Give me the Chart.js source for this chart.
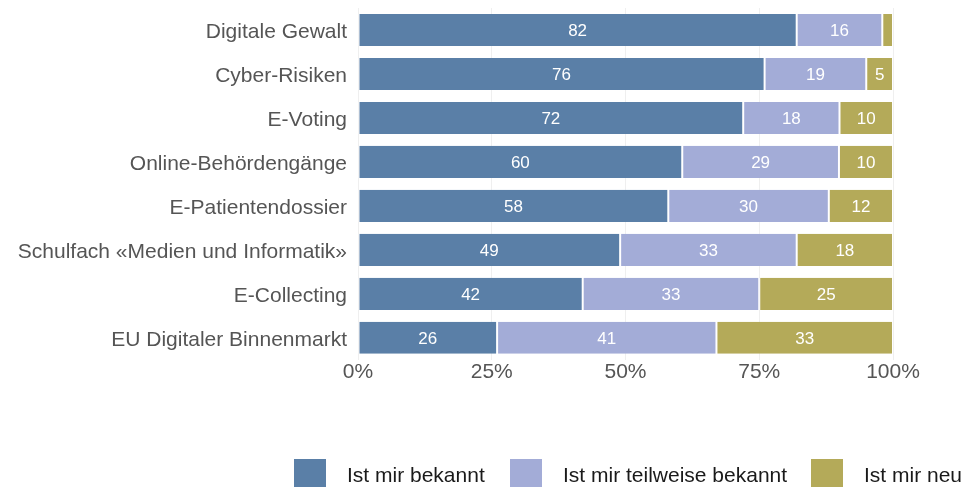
<!DOCTYPE html>
<html>
<head>
<meta charset="utf-8">
<script src="https://cdn.jsdelivr.net/npm/chart.js@4"></script>
<style>
  body { margin: 0; background: #fff; }
</style>
</head>
<body>
<canvas id="chart1" width="968" height="487"></canvas>
<script>
let categories = [
  'Digitale Gewalt',
  'Cyber-Risiken',
  'E-Voting',
  'Online-Behördengänge',
  'E-Patientendossier',
  'Schulfach «Medien und Informatik»',
  'E-Collecting',
  'EU Digitaler Binnenmarkt'
];
let bekannt   = [82, 76, 72, 60, 58, 49, 42, 26];
let teilweise = [16, 19, 18, 29, 30, 33, 33, 41];
let neu       = [2, 5, 10, 10, 12, 18, 25, 33];
let tickLabels = ['0%', '25%', '50%', '75%', '100%'];
let seriesNames = ['Ist mir bekannt', 'Ist mir teilweise bekannt', 'Ist mir neu'];
let colors = ['#5a7fa7', '#a3acd7', '#b4aa59'];

// each row is shown as share of its own total (stacked to 100%)
let totals = categories.map((c, i) => bekannt[i] + teilweise[i] + neu[i]);
let share = arr => arr.map((v, i) => v / totals[i] * 100);
let raw = [bekannt, teilweise, neu];

let font = "'Liberation Sans', Arial, Helvetica, sans-serif";

// values written inside the segments
let segmentLabels = {
  id: 'segmentLabels',
  afterDatasetsDraw(chart) {
    let ctx = chart.ctx;
    ctx.save();
    ctx.font = '17px ' + font;
    ctx.fillStyle = '#fff';
    ctx.textAlign = 'center';
    ctx.textBaseline = 'middle';
    chart.data.datasets.forEach((ds, di) => {
      chart.getDatasetMeta(di).data.forEach((bar, i) => {
        let v = raw[di][i];
        if (v < 5) return;
        let cx = (bar.x + bar.base) / 2;
        ctx.fillText(v, cx, bar.y + 1);
      });
    });
    ctx.restore();
  }
};

// legend row under the chart
let bottomLegend = {
  id: 'bottomLegend',
  afterDraw(chart) {
    let ctx = chart.ctx;
    let xs = [294, 510, 811];
    ctx.save();
    ctx.font = '21px ' + font;
    ctx.textBaseline = 'middle';
    seriesNames.forEach((name, i) => {
      ctx.fillStyle = colors[i];
      ctx.fillRect(xs[i], 459, 32, 30);
      ctx.fillStyle = '#1a1a1a';
      ctx.fillText(name, xs[i] + 53, 476);
    });
    ctx.restore();
  }
};

let ctx1 = document.getElementById('chart1');

let chart1 = new Chart(ctx1, {
  type: 'bar',
  data: {
    labels: categories,
    datasets: [bekannt, teilweise, neu].map((arr, i) => ({
      label: seriesNames[i],
      data: share(arr),
      backgroundColor: colors[i],
      borderColor: '#fff',
      borderWidth: { left: 1, right: 1, top: 0, bottom: 0 },
      borderSkipped: false,
      barPercentage: 0.73,
      categoryPercentage: 1
    }))
  },
  options: {
    indexAxis: 'y',
    responsive: false,
    animation: false,
    layout: { padding: { top: 8, right: 75, bottom: 102, left: 0 } },
    plugins: {
      legend: { display: false },
      tooltip: { enabled: false }
    },
    scales: {
      x: {
        stacked: true,
        min: 0,
        max: 100,
        border: { display: false },
        grid: { color: '#efefef', drawTicks: false },
        afterBuildTicks: scale => {
          scale.ticks = [0, 25, 50, 75, 100].map(v => ({ value: v }));
        },
        ticks: {
          padding: 0,
          color: '#555',
          font: { family: font, size: 21 },
          callback: (v, i) => tickLabels[i]
        }
      },
      y: {
        stacked: true,
        border: { display: false },
        grid: { display: false, drawTicks: false },
        afterFit: scale => {
          scale.width = 358;
          scale.paddingTop = 0;
          scale.paddingBottom = 0;
        },
        ticks: {
          padding: 11,
          labelOffset: 2,
          color: '#555',
          font: { family: font, size: 21 }
        }
      }
    }
  },
  plugins: [segmentLabels, bottomLegend]
});
</script>
</body>
</html>
